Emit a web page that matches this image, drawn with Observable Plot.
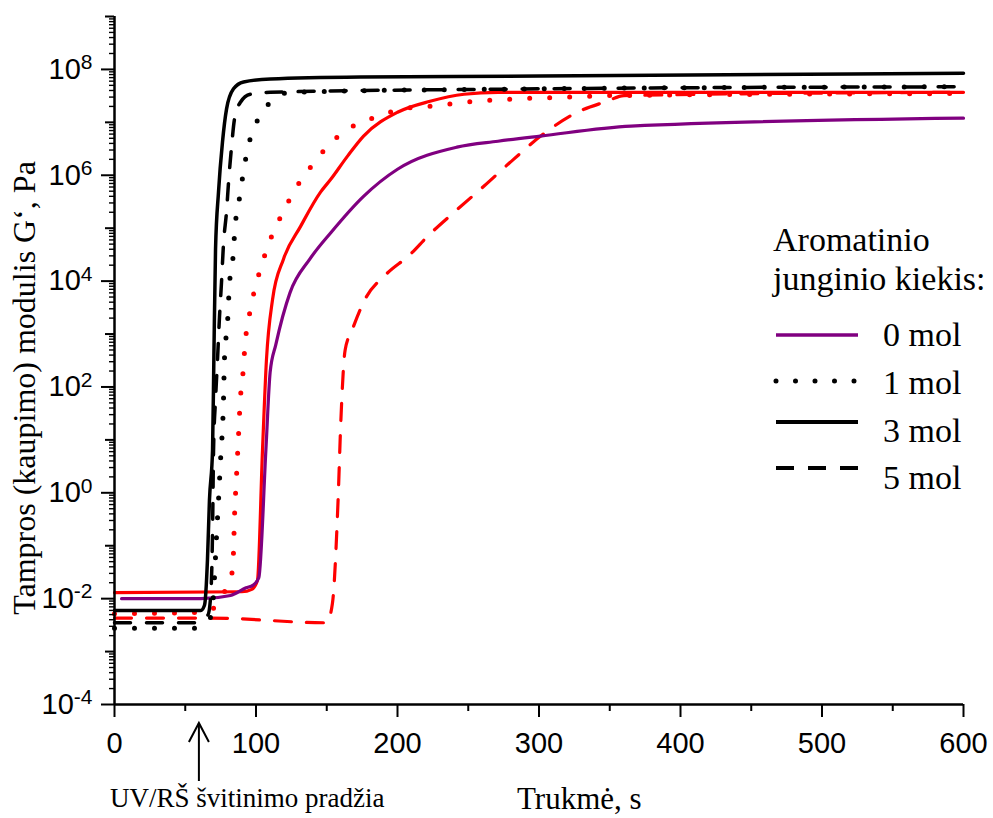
<!DOCTYPE html>
<html><head><meta charset="utf-8">
<script src="https://cdn.jsdelivr.net/npm/d3@7"></script>
<script src="https://cdn.jsdelivr.net/npm/@observablehq/plot@0.6"></script>
<style>
html,body{margin:0;padding:0;background:#fff;}
#chart{position:relative;width:993px;height:818px;}
</style>
</head><body><div id="chart"></div>
<script>
// ---- data ----
// time, s
const t_0mol = [5, 61, 82, 93, 98, 102, 107, 110, 114, 124, 138, 153, 176, 200, 242, 271, 301, 365, 600];
const G_0mol = [1.0e-2, 1.0e-2, 1.15e-2, 1.6e-2, 1.8e-2, 2.5e-2, 6.5, 1.9e2, 6.3e2, 6.0e3, 2.6e4, 8.3e4, 4.0e5, 1.3e6, 3.4e6, 4.4e6, 5.5e6, 8.5e6, 1.2e7];

const t_1mol = [0, 56.5, 68, 69.3, 70.7, 72, 73.5, 75, 77, 77.7, 79.9, 81.3, 83.4, 85.5, 87.6, 89.8, 91.9, 94.7, 99.6, 107.4, 124.4, 300, 600];
const G_1mol = [2.75e-3, 2.75e-3, 4.5e-3, 6.9e-3, 2.6e-2, 0.133, 0.72, 4.4, 52, 330, 1.7e3, 9.3e3, 2.2e4, 1.3e5, 2.8e5, 6.8e5, 1.55e6, 3.7e6, 8.9e6, 2.0e7, 3.7e7, 4.3e7, 4.7e7];

const t_3mol = [0, 61, 63.6, 65.7, 67.1, 69.3, 70.3, 71.4, 73.5, 76.3, 79.2, 84.1, 91.2, 110.2, 173.9, 301, 600];
const G_3mol = [6.0e-3, 6.0e-3, 7.5e-3, 5.4e-2, 0.72, 6.5, 500, 4.0e4, 4.8e5, 4.2e6, 1.8e7, 4.3e7, 5.8e7, 6.6e7, 7.2e7, 7.5e7, 8.5e7];

const t_5mol = [0, 56.5, 66, 68, 69.3, 70, 71.4, 72.8, 74.2, 75.6, 77, 79.2, 80.6, 82.7, 84.8, 89, 96, 110, 301, 600];
const G_5mol = [3.5e-3, 3.5e-3, 4.9e-3, 1.15e-2, 0.2, 6.5, 58, 330, 2.1e3, 9.3e3, 4.9e4, 2.1e5, 7.4e5, 3.4e6, 1.15e7, 2.4e7, 3.4e7, 3.7e7, 4.3e7, 4.7e7];

// red series (same line styles as 1, 3, 5 mol)
const t_red1 = [0, 61, 69, 76, 82.7, 84, 84.8, 86.2, 87.6, 89, 90.5, 92.6, 94.7, 97.5, 101, 105.3, 110.2, 115.9, 123, 131.4, 140, 150.5, 164.7, 178.8, 192.9, 207, 221, 248, 280, 322, 350.5, 600];
const G_red1 = [5.2e-3, 5.5e-3, 6.3e-3, 1.15e-2, 2.75e-2, 6.6e-2, 0.35, 2.0, 11.5, 63, 148, 813, 1.86e3, 4.5e3, 1.07e4, 2.6e4, 6.2e4, 1.35e5, 3.2e5, 7.8e5, 1.6e6, 3.5e6, 7.4e6, 1.1e7, 1.5e7, 1.86e7, 2.0e7, 2.4e7, 2.75e7, 3.0e7, 3.2e7, 3.5e7];

const t_red3 = [0, 90, 97, 101, 104.6, 107.4, 111.7, 119.4, 131.4, 145.6, 152.7, 164.7, 176, 200, 223, 247, 271, 600];
const G_red3 = [1.3e-2, 1.35e-2, 1.5e-2, 2.2e-2, 6.5, 330, 4.5e3, 2.6e4, 1.07e5, 4.8e5, 8.3e5, 2.3e6, 5.5e6, 1.55e7, 2.5e7, 3.4e7, 3.7e7, 3.7e7];

const t_red5 = [0, 68, 150, 154, 158, 160, 163, 168, 177, 192, 209, 221, 240, 261, 282, 303, 327, 348, 360, 600];
const G_red5 = [4.3e-3, 4.3e-3, 3.5e-3, 8.1e-3, 0.72, 24, 500, 1.2e3, 4.5e3, 1.35e4, 3.2e4, 6.9e4, 2.0e5, 6.2e5, 2.0e6, 6.0e6, 1.55e7, 2.5e7, 3.2e7, 3.7e7];

// ticks
const xMajorTicks = [0, 100, 200, 300, 400, 500, 600];
const xMinorTicks = [50, 150, 250, 350, 450, 550];
const yLabelExponents = [-4, -2, 0, 2, 4, 6, 8];
const yOddExponents = [-3, -1, 1, 3, 5, 7, 9];
const yMinorMultipliers = [2, 3, 4, 5, 6, 7, 8, 9];

// texts
const xLabel = "Trukmė, s";
const yLabel = "Tampros (kaupimo) modulis G‘, Pa";
const annotation = "UV/RŠ švitinimo pradžia";
const legendTitle = ["Aromatinio", "junginio kiekis:"];
const legendNames = ["0 mol", "1 mol", "3 mol", "5 mol"];

// ---- build ----
const rows = (t, G) => t.map((v, i) => ({t: v, G: G[i]}));
const styles = {
  solid: {},
  dotted: {strokeDasharray: "0 20", strokeLinecap: "round"},
  dashed: {strokeDasharray: "16 16"},
  reddashed: {strokeDasharray: "17 15"}
};
const seriesDefs = [
  {t: t_red5, G: G_red5, stroke: "#ff0000", w: 3.2, st: styles.reddashed},
  {t: t_red1, G: G_red1, stroke: "#ff0000", w: 5, st: styles.dotted},
  {t: t_red3, G: G_red3, stroke: "#ff0000", w: 3.2, st: styles.solid},
  {t: t_0mol, G: G_0mol, stroke: "#800080", w: 3.2, st: styles.solid},
  {t: t_1mol, G: G_1mol, stroke: "#000000", w: 5, st: styles.dotted},
  {t: t_5mol, G: G_5mol, stroke: "#000000", w: 3.5, st: styles.dashed},
  {t: t_3mol, G: G_3mol, stroke: "#000000", w: 3.5, st: styles.solid}
];

const yLabelTicks = yLabelExponents.map(e => Math.pow(10, e));
const yOddTicks = yOddExponents.map(e => Math.pow(10, e));
const yMinorTicks = [];
for (let e = -4; e <= 8; e++) for (const m of yMinorMultipliers) yMinorTicks.push(m * Math.pow(10, e));

const lineMarks = seriesDefs.map(s => Plot.line(rows(s.t, s.G), {
  x: "t", y: "G", stroke: s.stroke, strokeWidth: s.w, curve: "monotone-x", ...s.st
}));

const chart = Plot.plot({
  width: 993, height: 818,
  marginLeft: 114, marginRight: 30, marginTop: 16, marginBottom: 114,
  style: {background: "white", color: "black", fontFamily: '"Liberation Sans", Arial, sans-serif', overflow: "visible"},
  x: {domain: [0, 600]},
  y: {type: "log", domain: [1e-4, 1e9]},
  marks: [
    ...lineMarks,
    Plot.axisX({ticks: xMinorTicks, tickSize: 7, tickFormat: () => "", strokeWidth: 2, label: null}),
    Plot.axisX({ticks: xMajorTicks, tickSize: 13, tickPadding: 15, tickFormat: d => String(d), fontSize: 29, strokeWidth: 2, label: null}),
    Plot.axisY({ticks: yMinorTicks, tickSize: 5, tickFormat: () => "", strokeWidth: 1.4, label: null}),
    Plot.axisY({ticks: yOddTicks, tickSize: 9, tickFormat: () => "", strokeWidth: 2, label: null}),
    Plot.axisY({ticks: yLabelTicks, tickSize: 13, tickPadding: 9, tickFormat: d => "10^" + Math.round(Math.log10(d)), fontSize: 29, strokeWidth: 2, label: null}),
    Plot.ruleX([0], {strokeWidth: 2.5}),
    Plot.ruleY([1e-4], {strokeWidth: 2.5})
  ]
});

document.getElementById("chart").appendChild(chart);

// superscripts on y tick labels
const NS = "http://www.w3.org/2000/svg";
chart.querySelectorAll('g[aria-label="y-axis tick label"] text').forEach(tx => {
  const s = tx.textContent;
  if (!s.includes("^")) return;
  const [b, e] = s.split("^");
  tx.textContent = "";
  const t1 = document.createElementNS(NS, "tspan"); t1.textContent = b; tx.appendChild(t1);
  const t2 = document.createElementNS(NS, "tspan");
  t2.setAttribute("dy", "-0.45em"); t2.setAttribute("font-size", "21"); t2.textContent = e;
  tx.appendChild(t2);
});

const svg = d3.select(chart);
const serif = '"Liberation Serif", "Times New Roman", Times, serif';
const xs = chart.scale("x");

function serifText(sel, size, anchor) {
  return sel.style("font-family", serif).style("font-size", size + "px")
    .attr("text-anchor", anchor).style("text-anchor", anchor).attr("fill", "black");
}

// axis titles
serifText(svg.append("text").attr("transform", "translate(35,388) rotate(-90)"), 32, "middle").text(yLabel);
serifText(svg.append("text").attr("x", 517).attr("y", 809), 31, "start").text(xLabel);

// UV start annotation
const ax = xs.apply(60);
svg.append("line").attr("x1", ax).attr("x2", ax).attr("y1", 723).attr("y2", 781)
  .attr("stroke", "black").attr("stroke-width", 2);
svg.append("polyline").attr("points", `${ax-10},742 ${ax},723 ${ax+10},742`)
  .attr("fill", "none").attr("stroke", "black").attr("stroke-width", 2);
serifText(svg.append("text").attr("x", 110).attr("y", 807), 27, "start").text(annotation);

// legend
const lg = svg.append("g");
serifText(lg.append("text").attr("x", 773).attr("y", 251), 34, "start").text(legendTitle[0]);
serifText(lg.append("text").attr("x", 773).attr("y", 290), 34, "start").text(legendTitle[1]);
const legendStyles = [
  {stroke: "#800080", w: 3.5, dash: null, cap: "butt", y: 335},
  {stroke: "#000", w: 5, dash: "0 19.5", cap: "round", y: 381},
  {stroke: "#000", w: 4, dash: null, cap: "butt", y: 422},
  {stroke: "#000", w: 4, dash: "18 14", cap: "butt", y: 468}
];
const legendTextY = [346, 394, 442, 489];
legendNames.forEach((n, i) => {
  const s = legendStyles[i];
  const l = lg.append("line").attr("x1", 776).attr("x2", 858).attr("y1", s.y).attr("y2", s.y)
    .attr("stroke", s.stroke).attr("stroke-width", s.w).attr("stroke-linecap", s.cap);
  if (s.dash) l.attr("stroke-dasharray", s.dash);
  serifText(lg.append("text").attr("x", 883).attr("y", legendTextY[i]), 34, "start").text(n);
});
</script>
</body></html>
